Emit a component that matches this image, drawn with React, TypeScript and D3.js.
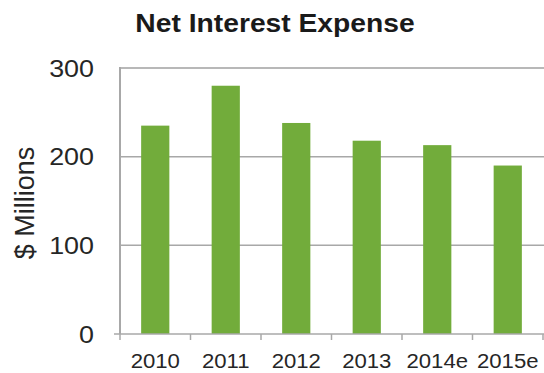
import React from "react";
import * as d3 from "d3";

const categories = ["2010", "2011", "2012", "2013", "2014e", "2015e"];
const values = [235, 280, 238, 218, 213, 190];
const yTicks = [0, 100, 200, 300];
const title = "Net Interest Expense";
const yTitle = "$ Millions";

const W = 544;
const H = 373;
const plot = { left: 120, right: 543, top: 68, bottom: 334 };
const SX = 1.12;

export default function App() {
  const x = d3
    .scaleBand<string>()
    .domain(categories)
    .range([plot.left, plot.right])
    .paddingInner(0.6)
    .paddingOuter(0.3);
  const y = d3.scaleLinear().domain([0, 300]).range([plot.bottom, plot.top]);
  const step = x.step();
  const bounds = categories.map((_, i) => plot.left + i * step);
  bounds.push(plot.left + categories.length * step);
  const font = "Arial, 'Liberation Sans', Helvetica, sans-serif";

  return (
    <svg
      width={W}
      height={H}
      style={{ position: "absolute", left: 0, top: 0, background: "#fff" }}
      fontFamily={font}
    >
      <rect x={0} y={0} width={W} height={H} fill="#fff" />
      <text
        transform={`translate(275,32) scale(1.13,1)`}
        textAnchor="middle"
        fontSize={25}
        fontWeight="bold"
        fill="#1a1a1a"
      >
        {title}
      </text>
      {/* gridlines */}
      {yTicks.filter((t) => t > 0).map((t) => (
        <line
          key={t}
          x1={plot.left}
          x2={W + 10}
          y1={y(t)}
          y2={y(t)}
          stroke={t === 300 ? "#b8b8b8" : "#a8a8a8"}
          strokeWidth={t === 300 ? 2 : 1.5}
        />
      ))}
      {/* bars */}
      {categories.map((c, i) => (
        <rect
          key={c}
          x={x(c)}
          y={y(values[i])}
          width={x.bandwidth()}
          height={y(0) - y(values[i])}
          fill="#72ac3b"
        />
      ))}
      {/* axes */}
      <line x1={plot.left} x2={plot.left} y1={plot.top - 1} y2={plot.bottom} stroke="#a8a8a8" strokeWidth={2} />
      <line x1={plot.left - 6} x2={W + 10} y1={plot.bottom} y2={plot.bottom} stroke="#a8a8a8" strokeWidth={1.5} />
      {bounds.map((b, i) => (
        <line key={i} x1={b} x2={b} y1={plot.bottom} y2={plot.bottom + 6} stroke="#a8a8a8" strokeWidth={1.5} />
      ))}
      {/* y tick labels */}
      {yTicks.map((t) => (
        <text
          key={t}
          transform={`translate(94,${y(t) + 8.5}) scale(${SX},1)`}
          textAnchor="end"
          fontSize={24}
          fill="#262626"
        >
          {t}
        </text>
      ))}
      {/* x tick labels */}
      {categories.map((c) => (
        <text
          key={c}
          transform={`translate(${(x(c) as number) + x.bandwidth() / 2},368) scale(1.08,1)`}
          textAnchor="middle"
          fontSize={20.5}
          fill="#262626"
        >
          {c}
        </text>
      ))}
      {/* y title */}
      <text
        transform={`translate(34,203) rotate(-90)`}
        textAnchor="middle"
        fontSize={27}
        fill="#262626"
      >
        {yTitle}
      </text>
    </svg>
  );
}
